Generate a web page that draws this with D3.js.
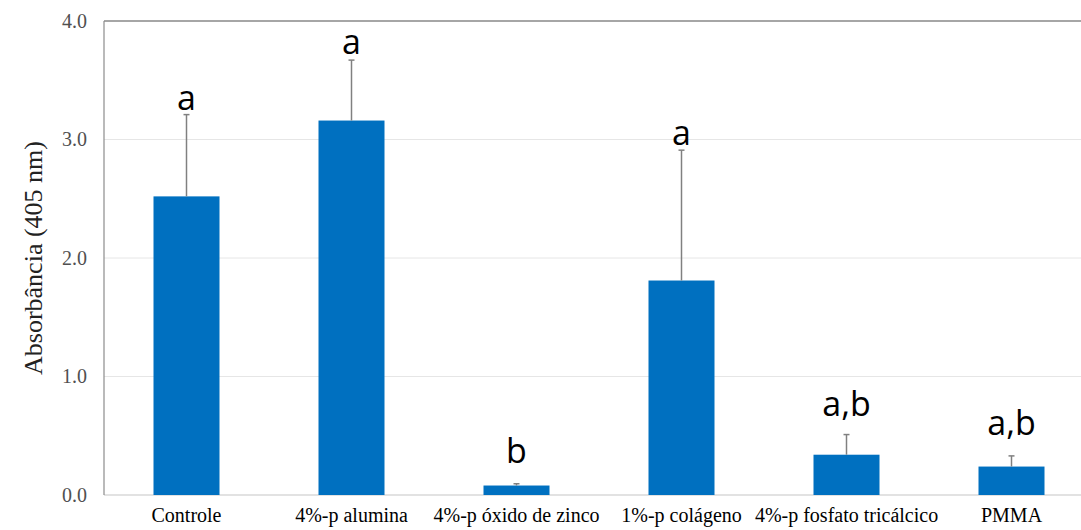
<!DOCTYPE html>
<html><head><meta charset="utf-8">
<script src="https://cdn.jsdelivr.net/npm/d3@7"></script>
<style>body{margin:0;background:#fff}svg{display:block}
.serif{font-family:"Liberation Serif","Times New Roman","DejaVu Serif",serif}
.sans{font-family:"Open Sans",Lato,sans-serif}
</style>
</head><body>
<svg id="c" width="1081" height="530"></svg>
<script>
const categories = ["Controle","4%-p alumina","4%-p óxido de zinco","1%-p colágeno","4%-p fosfato tricálcico","PMMA"];
const means = [2.52, 3.16, 0.08, 1.81, 0.34, 0.24];
const errors = [0.69, 0.51, 0.015, 1.10, 0.17, 0.09];
const letters = ["a","a","b","a","a,b","a,b"];
const letterAt = [3.25, 3.72, 0.27, 2.95, 0.67, 0.51];
const yTicks = [0,1,2,3,4];

const svg = d3.select("#c");
const L = 104, R = 1094, T = 21, B = 495;
const x = d3.scaleBand().domain(categories).range([L, R]).paddingInner(0.6).paddingOuter(0.3);
const y = d3.scaleLinear().domain([0,4]).range([B, T]);

svg.append("g").selectAll("line").data(yTicks.filter(t=>t>0 && t<4)).join("line")
  .attr("x1", L).attr("x2", 1081).attr("y1", d=>y(d)).attr("y2", d=>y(d))
  .attr("stroke", "#e6e6e6").attr("stroke-width", 1);
svg.append("line").attr("x1", L).attr("x2", 1081).attr("y1", y(4)).attr("y2", y(4))
  .attr("stroke", "#a6a6a6").attr("stroke-width", 2);
svg.append("line").attr("x1", L).attr("x2", 1081).attr("y1", y(0)).attr("y2", y(0))
  .attr("stroke", "#d9d9d9").attr("stroke-width", 1.5);
svg.append("line").attr("x1", L).attr("x2", L).attr("y1", y(4)).attr("y2", y(0))
  .attr("stroke", "#8c8c8c").attr("stroke-width", 1.2);

const yAxis = d3.axisLeft(y).tickValues(yTicks).tickFormat(d3.format(".1f")).tickSize(0).tickPadding(17);
const ga = svg.append("g").attr("transform", `translate(${L},0)`).call(yAxis);
ga.attr("font-family", null).attr("font-size", null);
ga.select(".domain").remove();
ga.selectAll("text").attr("class","serif").style("font-size","20px").attr("fill","#505050");

svg.append("g").selectAll("rect").data(categories).join("rect")
  .attr("x", d=>x(d)).attr("width", x.bandwidth())
  .attr("y", (d,i)=>y(means[i])).attr("height", (d,i)=>y(0)-y(means[i]))
  .attr("fill", "#0070c0");

const eg = svg.append("g").attr("stroke","#808080").attr("stroke-width",1.5);
categories.forEach((c,i)=>{
  const cx = x(c)+x.bandwidth()/2;
  eg.append("line").attr("x1",cx).attr("x2",cx).attr("y1",y(means[i])).attr("y2",y(means[i]+errors[i]));
  eg.append("line").attr("x1",cx-3).attr("x2",cx+3).attr("y1",y(means[i]+errors[i])).attr("y2",y(means[i]+errors[i]));
});

svg.append("g").selectAll("text").data(categories).join("text")
  .attr("class","sans")
  .attr("x", d=>x(d)+x.bandwidth()/2).attr("y",(d,i)=>y(letterAt[i]))
  .attr("text-anchor","middle").style("font-size","34px").attr("fill","#000")
  .text((d,i)=>letters[i]);

const xAxis = d3.axisBottom(x).tickSize(0).tickPadding(13);
const gx = svg.append("g").attr("transform",`translate(0,${B})`).call(xAxis);
gx.attr("font-family", null).attr("font-size", null);
gx.select(".domain").remove();
gx.selectAll("text").attr("class","serif").style("font-size","20px").attr("fill","#000");

svg.append("text").attr("class","serif").attr("transform",`translate(42,${(T+B)/2}) rotate(-90)`)
  .attr("text-anchor","middle").style("font-size","26px").attr("fill","#222")
  .text("Absorbância (405 nm)");
</script>
</body></html>
